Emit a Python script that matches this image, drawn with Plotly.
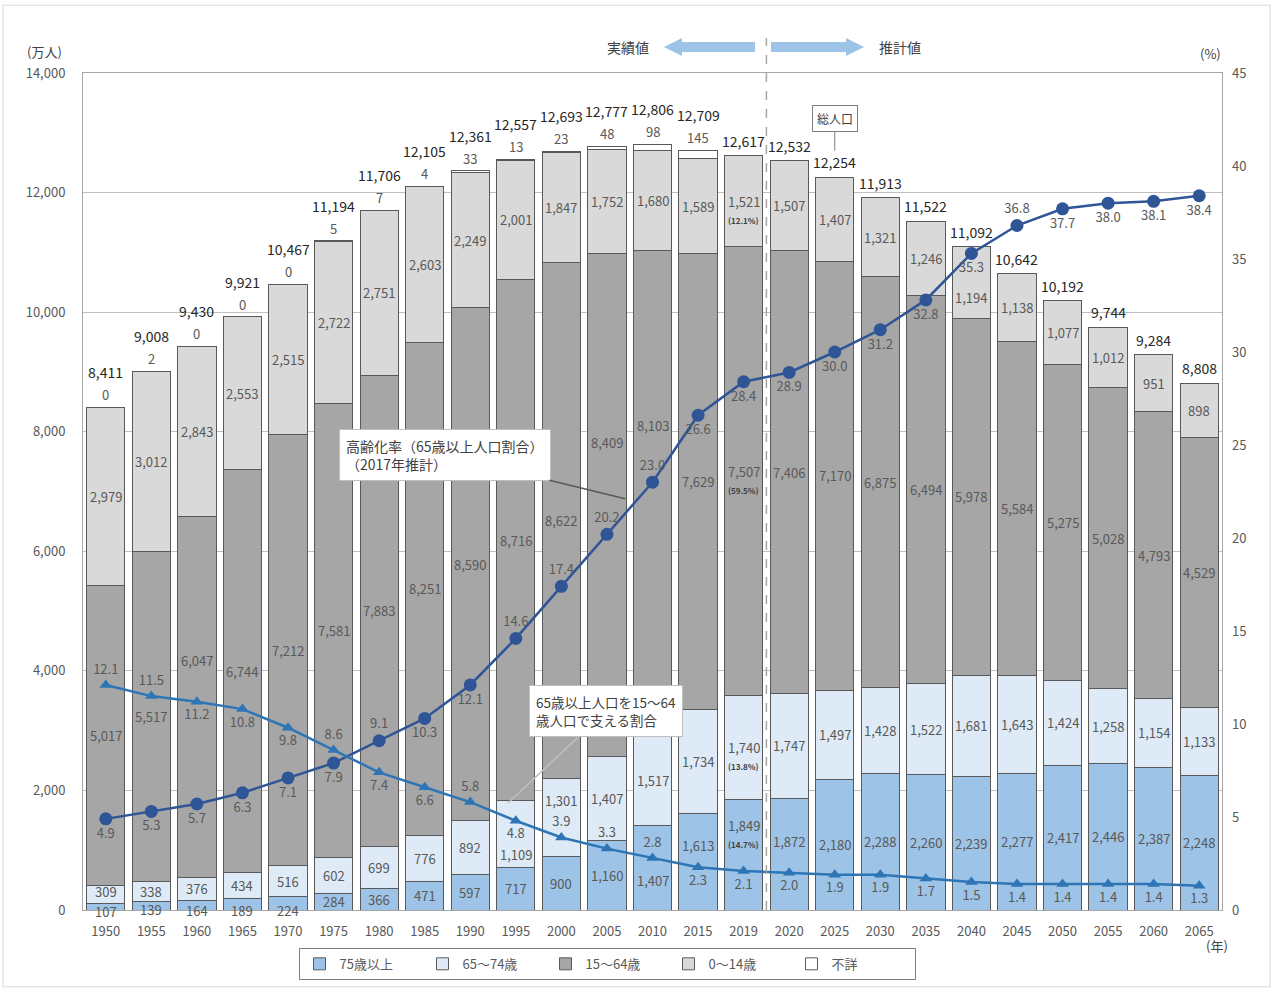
import numpy as np
import plotly.graph_objects as go

years = ["1950","1955","1960","1965","1970","1975","1980","1985","1990","1995","2000","2005",
         "2010","2015","2019","2020","2025","2030","2035","2040","2045","2050","2055","2060","2065"]
totals = [8411, 9008, 9430, 9921, 10467, 11194, 11706, 12105, 12361, 12557, 12693, 12777, 12806,
          12709, 12617, 12532, 12254, 11913, 11522, 11092, 10642, 10192, 9744, 9284, 8808]
age75 = [107, 139, 164, 189, 224, 284, 366, 471, 597, 717, 900, 1160, 1407, 1613, 1849, 1872,
         2180, 2288, 2260, 2239, 2277, 2417, 2446, 2387, 2248]
age65_74 = [309, 338, 376, 434, 516, 602, 699, 776, 892, 1109, 1301, 1407, 1517, 1734, 1740, 1747,
            1497, 1428, 1522, 1681, 1643, 1424, 1258, 1154, 1133]
age15_64 = [5017, 5517, 6047, 6744, 7212, 7581, 7883, 8251, 8590, 8716, 8622, 8409, 8103, 7629,
            7507, 7406, 7170, 6875, 6494, 5978, 5584, 5275, 5028, 4793, 4529]
age0_14 = [2979, 3012, 2843, 2553, 2515, 2722, 2751, 2603, 2249, 2001, 1847, 1752, 1680, 1589,
           1521, 1507, 1407, 1321, 1246, 1194, 1138, 1077, 1012, 951, 898]
unknown = [0, 2, 0, 0, 0, 5, 7, 4, 33, 13, 23, 48, 98, 145, None, None, None, None, None, None,
           None, None, None, None, None]
aging_rate = [4.9, 5.3, 5.7, 6.3, 7.1, 7.9, 9.1, 10.3, 12.1, 14.6, 17.4, 20.2, 23.0, 26.6, 28.4,
              28.9, 30.0, 31.2, 32.8, 35.3, 36.8, 37.7, 38.0, 38.1, 38.4]
support_ratio = [12.1, 11.5, 11.2, 10.8, 9.8, 8.6, 7.4, 6.6, 5.8, 4.8, 3.9, 3.3, 2.8, 2.3, 2.1,
                 2.0, 1.9, 1.9, 1.7, 1.5, 1.4, 1.4, 1.4, 1.4, 1.3]
share_2019 = {"age0_14": "(12.1%)", "age15_64": "(59.5%)", "age65_74": "(13.8%)", "age75": "(14.7%)"}

# ---- styling / label placement (not data) ----
aging_pos = ["bottom center"] * 6 + ["top center", "bottom center", "bottom center"] + \
            ["top center"] * 4 + ["bottom center"] * 7 + ["top center"] + ["bottom center"] * 4
support_pos = ["top center", "top center", "bottom center", "bottom center", "bottom center",
               "top center", "bottom center", "bottom center", "top center", "bottom center",
               "top center", "top center", "top center"] + ["bottom center"] * 12
label_shift = {("age65_74", "2000"): 17, ("age65_74", "1995"): -21, ("age65_74", "1950"): 3,
               ("age75", "1950"): -5, ("age75", "1955"): -4, ("age75", "1960"): -5,
               ("age75", "1965"): -6, ("age75", "1970"): -7,
               ("age75", "2010"): -13, ("age75", "2015"): 16,
               ("age75", "2019"): 29, ("age75", "2020"): 13, ("age15_64", "1960"): 36,
               ("age15_64", "2005"): 63, ("age15_64", "2010"): 67, ("age0_14", "2040"): -15}

NUM_FONT = "Liberation Sans Narrow, Noto Sans CJK JP, sans-serif"
JP_FONT = "Noto Sans CJK JP, sans-serif"
GRAY_TXT = "#595959"
DARK_TXT = "#404040"

W, H = 1274, 992
L, R, T, B = 83, 52, 73, 80
PW, PH = W - L - R, H - T - B


def px(x):
    return (x - L) / PW


def py(y):
    return (H - B - y) / PH


xi = list(range(len(years)))

fig = go.Figure()

series = [("75歳以上", age75, "#9dc3e6", "age75"), ("65～74歳", age65_74, "#deebf7", "age65_74"),
          ("15～64歳", age15_64, "#a6a6a6", "age15_64"), ("0～14歳", age0_14, "#d9d9d9", "age0_14")]
unk_vals = [u if u is not None else 0 for u in unknown]
for name, vals, col, key in series:
    fig.add_trace(go.Bar(x=xi, y=vals, name=name, marker_color=col,
                         marker_line_color="#595959", marker_line_width=1, hoverinfo="skip"))
fig.add_trace(go.Bar(x=xi, y=unk_vals, name="不詳", marker_color="#ffffff",
                     marker_line_color="#595959", marker_line_width=1, hoverinfo="skip"))

# in-bar labels, centred in each segment
bottom = np.zeros(len(years))
i19 = years.index("2019")
for name, vals, col, key in series:
    v = np.array(vals, dtype=float)
    mid = bottom + v / 2
    for i, yr in enumerate(years):
        sh = label_shift.get((key, yr), 0)
        fig.add_annotation(x=i, y=mid[i], text=f"{int(v[i]):,}", showarrow=False, yshift=sh,
                           font=dict(family=NUM_FONT, size=13, color=GRAY_TXT))
        if i == i19:
            fig.add_annotation(x=i, y=mid[i], text=f"<b>{share_2019[key]}</b>", showarrow=False,
                               yshift=sh - 19, font=dict(family=NUM_FONT, size=8, color=DARK_TXT))
    bottom = bottom + v

# unknown and total labels above the bars
for i, (tot, u) in enumerate(zip(totals, unknown)):
    if u is not None:
        fig.add_annotation(x=i, y=tot, text=f"{u:,}", showarrow=False, yanchor="bottom", yshift=1,
                           font=dict(family=NUM_FONT, size=13, color=GRAY_TXT))
        shift = 23
    else:
        shift = 3
    fig.add_annotation(x=i, y=tot, text=f"{tot:,}", showarrow=False, yanchor="bottom", yshift=shift,
                       font=dict(family=NUM_FONT, size=14, color="#262626"))

# lines
fig.add_trace(go.Scatter(x=xi, y=aging_rate, yaxis="y2", mode="lines+markers+text",
                         text=[f"{v:.1f}" for v in aging_rate], textposition=aging_pos,
                         textfont=dict(family=NUM_FONT, size=13, color=GRAY_TXT),
                         line=dict(color="#2f5597", width=2.5),
                         marker=dict(symbol="circle", size=13, color="#2f5597"),
                         showlegend=False, hoverinfo="skip", cliponaxis=False))
fig.add_trace(go.Scatter(x=xi, y=support_ratio, yaxis="y2", mode="lines+markers+text",
                         text=[f"{v:.1f}" for v in support_ratio], textposition=support_pos,
                         textfont=dict(family=NUM_FONT, size=13, color=GRAY_TXT),
                         line=dict(color="#2e75b6", width=2.5),
                         marker=dict(symbol="triangle-up", size=11, color="#2e75b6"),
                         showlegend=False, hoverinfo="skip", cliponaxis=False))

# dashed separator between actual and projection
fig.add_shape(type="line", xref="x", yref="paper", x0=i19 + 0.5, x1=i19 + 0.5, y0=0, y1=py(38),
              line=dict(color="#a6a6a6", width=1.5, dash="dash"))

# header arrows
arrow_col = "#9dc3e6"
yc = py(47)
bh = 10 / PH / 2
hh = 18 / PH / 2
fig.add_shape(type="path", xref="paper", yref="paper", line_width=0, fillcolor=arrow_col,
              path=f"M {px(755)},{yc - bh} L {px(682)},{yc - bh} L {px(682)},{yc - hh} L {px(664)},{yc} "
                   f"L {px(682)},{yc + hh} L {px(682)},{yc + bh} L {px(755)},{yc + bh} Z")
fig.add_shape(type="path", xref="paper", yref="paper", line_width=0, fillcolor=arrow_col,
              path=f"M {px(771)},{yc - bh} L {px(846)},{yc - bh} L {px(846)},{yc - hh} L {px(864)},{yc} "
                   f"L {px(846)},{yc + hh} L {px(846)},{yc + bh} L {px(771)},{yc + bh} Z")


def paper_text(x, y, text, size=14):
    fig.add_annotation(xref="paper", yref="paper", x=px(x), y=py(y), text=text, showarrow=False,
                       xanchor="center", yanchor="middle",
                       font=dict(family=JP_FONT, size=size, color=DARK_TXT))


paper_text(628, 47, "実績値")
paper_text(900, 47, "推計値")
paper_text(44, 51, "(万人)", 13)
paper_text(1210, 53, "(%)", 13)
paper_text(1217, 948, "(年)", 13)

# callouts
i25 = years.index("2025")
fig.add_annotation(x=i25, y=12700, text="総人口", showarrow=True, arrowhead=0, arrowwidth=1,
                   arrowcolor="#7f7f7f", ax=0, ay=-32, bgcolor="white", bordercolor="#7f7f7f",
                   borderwidth=1, borderpad=4, font=dict(family=JP_FONT, size=12, color=DARK_TXT))
fig.add_annotation(x=11.4, y=6880, text="高齢化率（65歳以上人口割合）<br>（2017年推計）", align="left",
                   showarrow=True, arrowhead=0, arrowwidth=1.5, arrowcolor="#595959", ax=-180, ay=-44,
                   bgcolor="white", bordercolor="#bfbfbf", borderwidth=1, borderpad=6,
                   font=dict(family=JP_FONT, size=14, color=DARK_TXT))
fig.add_annotation(x=8.83, y=1790, text="65歳以上人口を15～64<br>歳人口で支える割合", align="left",
                   showarrow=True, arrowhead=0, arrowwidth=1.5, arrowcolor="#bfbfbf", ax=98, ay=-92,
                   bgcolor="white", bordercolor="#bfbfbf", borderwidth=1, borderpad=6,
                   font=dict(family=JP_FONT, size=13.5, color=DARK_TXT))

# outer frame
fig.add_shape(type="rect", xref="paper", yref="paper", x0=px(3), x1=px(1270), y0=py(989), y1=py(5),
              line=dict(color="#d9d9d9", width=1))

fig.update_layout(
    width=W, height=H, barmode="stack", bargap=0.16,
    margin=dict(l=L, r=R, t=T, b=B),
    plot_bgcolor="white", paper_bgcolor="white",
    font=dict(family=NUM_FONT, size=12, color=GRAY_TXT),
    xaxis=dict(range=[-0.5, len(years) - 0.5], tickmode="array", tickvals=xi, ticktext=years,
               showline=True, mirror=True, linecolor="#a6a6a6", linewidth=1, showgrid=False,
               zeroline=False, ticks="", ticklabelstandoff=9,
               tickfont=dict(family=NUM_FONT, size=13, color=GRAY_TXT)),
    yaxis=dict(range=[0, 14000], dtick=2000, tickformat=",", showgrid=True, gridcolor="#bfbfbf",
               gridwidth=1, showline=True, mirror=True, linecolor="#a6a6a6", ticks="", zeroline=False,
               ticklabelstandoff=14, tickfont=dict(family=NUM_FONT, size=13, color=GRAY_TXT)),
    yaxis2=dict(range=[0, 45], dtick=5, overlaying="y", side="right", showgrid=False, zeroline=False,
                ticks="", ticklabelstandoff=9, tickfont=dict(family=NUM_FONT, size=13, color=GRAY_TXT)),
    legend=dict(orientation="h", x=px(607), y=py(966), xanchor="center", yanchor="middle",
                bordercolor="#7f7f7f", borderwidth=1, entrywidth=78, traceorder="normal",
                font=dict(family=JP_FONT, size=13, color=GRAY_TXT)),
)

fig.write_html("out.html", config={"displayModeBar": False},
               post_script="document.body.style.margin='0';"
                           "document.documentElement.style.overflow='hidden';"
                           "document.body.style.overflow='hidden';")
